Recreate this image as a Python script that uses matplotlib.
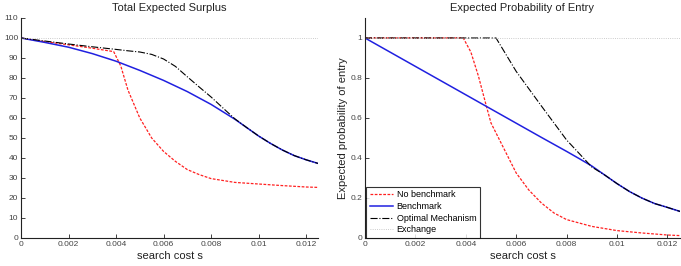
import matplotlib
matplotlib.use("Agg")
import matplotlib.pyplot as plt
from matplotlib.ticker import FuncFormatter

plt.rcParams['font.family'] = ['Liberation Sans', 'DejaVu Sans']

# ---- Left panel: Total Expected Surplus ----
s_bench_L = [0, 0.001, 0.002, 0.003, 0.004, 0.005, 0.006, 0.007, 0.008, 0.009, 0.0095, 0.010, 0.0105, 0.011, 0.0115, 0.012, 0.0125]
v_bench_L = [100, 97.8, 95.4, 92.2, 88.4, 83.8, 78.8, 73.2, 66.8, 59.4, 55.2, 51.0, 47.3, 44.0, 41.2, 39.1, 37.3]

s_opt_L = [0, 0.001, 0.002, 0.003, 0.004, 0.0045, 0.005, 0.0055, 0.006, 0.0065, 0.007, 0.0075, 0.008, 0.0085, 0.009, 0.0095, 0.010, 0.0105, 0.011, 0.0115, 0.012, 0.0125]
v_opt_L = [100, 98.5, 97.0, 95.6, 94.3, 93.6, 93.0, 91.8, 89.5, 85.8, 80.6, 75.5, 70.5, 65.0, 59.6, 55.2, 51.0, 47.3, 44.0, 41.2, 39.1, 37.3]

s_nob_L = [0, 0.001, 0.002, 0.003, 0.0039, 0.0042, 0.0045, 0.005, 0.0055, 0.006, 0.0065, 0.007, 0.0075, 0.008, 0.009, 0.010, 0.011, 0.012, 0.0125]
v_nob_L = [100, 98.2, 96.6, 94.9, 93.2, 86.0, 74.0, 60.0, 50.0, 43.3, 38.3, 34.2, 31.7, 29.7, 27.8, 27.0, 26.2, 25.5, 25.3]

exch_L = 100

# ---- Right panel: Expected Probability of Entry ----
s_bench_R = [0, 0.001, 0.002, 0.003, 0.004, 0.005, 0.006, 0.007, 0.008, 0.0085, 0.009, 0.0095, 0.010, 0.0105, 0.011, 0.0115, 0.012, 0.0125]
p_bench_R = [1.0, 0.929, 0.858, 0.787, 0.716, 0.645, 0.574, 0.503, 0.433, 0.397, 0.360, 0.316, 0.272, 0.232, 0.199, 0.172, 0.153, 0.133]

s_opt_R = [0, 0.001, 0.002, 0.003, 0.004, 0.005, 0.0052, 0.006, 0.007, 0.008, 0.009, 0.0095, 0.010, 0.0105, 0.011, 0.0115, 0.012, 0.0125]
p_opt_R = [1, 1, 1, 1, 1, 1, 1.0, 0.833, 0.660, 0.490, 0.355, 0.316, 0.272, 0.232, 0.199, 0.172, 0.153, 0.133]

s_nob_R = [0, 0.001, 0.002, 0.003, 0.0039, 0.0042, 0.0045, 0.0048, 0.005, 0.0055, 0.006, 0.0065, 0.007, 0.0075, 0.008, 0.009, 0.010, 0.011, 0.012, 0.0125]
p_nob_R = [1, 1, 1, 1, 1.0, 0.93, 0.81, 0.667, 0.575, 0.45, 0.325, 0.24, 0.175, 0.125, 0.092, 0.058, 0.037, 0.025, 0.015, 0.012]

exch_R = 1.0

xticks = [0, 0.002, 0.004, 0.006, 0.008, 0.01, 0.012]

fig = plt.figure(figsize=(6.81, 2.66), dpi=100)
axL = fig.add_axes([21/681, 1-238/266, (318-21)/681, 220/266])
axR = fig.add_axes([365/681, 1-238/266, (680-365)/681, 220/266])

RED = '#ff2020'
BLUE = '#2020e0'
fmt = FuncFormatter(lambda v, p: '%g' % v)

def style(ax):
    for sp in ['top', 'right']:
        ax.spines[sp].set_visible(False)
    for sp in ['left', 'bottom']:
        ax.spines[sp].set_color('#222222')
        ax.spines[sp].set_linewidth(0.8)
    ax.tick_params(direction='in', length=3, width=0.6, labelsize=6, colors='#222222', labelcolor='#444444', pad=2)
    ax.set_xlim(0, 0.0125)
    ax.set_xticks(xticks)
    ax.xaxis.set_major_formatter(fmt)
    ax.yaxis.set_major_formatter(fmt)
    ax.set_xlabel('search cost s', fontsize=8, color='#222222', labelpad=2)

# Left
axL.plot(s_nob_L, v_nob_L, '--', color=RED, lw=0.9, dashes=(2.2, 1.2))
axL.plot(s_bench_L, v_bench_L, '-', color=BLUE, lw=1.1)
axL.plot(s_opt_L, v_opt_L, '-.', color='black', lw=0.8)
axL.axhline(exch_L, color='#bbbbbb', lw=0.6, ls=':')
style(axL)
axL.set_ylim(0, 110)
axL.set_yticks(range(0, 111, 10))
axL.set_title('Total Expected Surplus', fontsize=8, color='#222222', pad=5)

# Right
axR.plot(s_nob_R, p_nob_R, '--', color=RED, lw=0.9, dashes=(2.2, 1.2), label='No benchmark')
axR.plot(s_bench_R, p_bench_R, '-', color=BLUE, lw=1.1, label='Benchmark')
axR.plot(s_opt_R, p_opt_R, '-.', color='black', lw=0.8, label='Optimal Mechanism')
axR.axhline(exch_R, color='#bbbbbb', lw=0.6, ls=':', label='Exchange')
style(axR)
axR.set_ylim(0, 1.1)
axR.set_yticks([0, 0.2, 0.4, 0.6, 0.8, 1])
axR.set_ylabel('Expected probability of entry', fontsize=8, color='#222222', labelpad=2)
axR.set_title('Expected Probability of Entry', fontsize=8, color='#222222', pad=5)
leg = axR.legend(loc='lower left', fontsize=6.5, frameon=True, fancybox=False,
                 edgecolor='black', borderaxespad=0.0, handlelength=2.6,
                 labelspacing=0.3, borderpad=0.4, handletextpad=0.4,
                 bbox_to_anchor=(0.003, 0.0))
leg.get_frame().set_linewidth(0.8)

fig.savefig('out.png', dpi=100)
